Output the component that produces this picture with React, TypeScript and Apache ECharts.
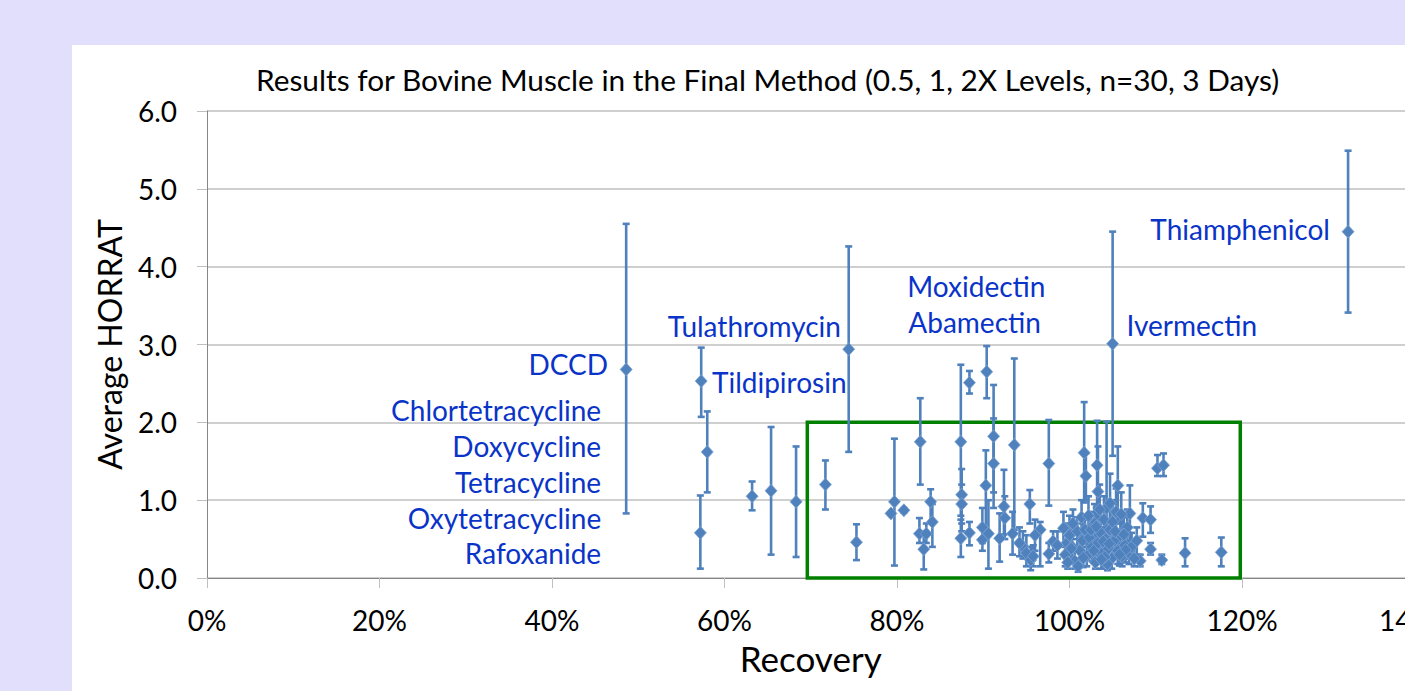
import React, { useEffect, useRef } from "react";
import * as echarts from "echarts";

const TITLE = "Results for Bovine Muscle in the Final Method (0.5, 1, 2X Levels, n=30, 3 Days)";
const X_NAME = "Recovery";
const Y_NAME = "Average HORRAT";

// recovery (%) of each analyte
const RECOVERY = [
  48.6, 57.3, 58.0, 57.2, 63.2, 65.4, 68.3, 71.7, 74.4, 75.3,
  79.7, 79.3, 80.8, 82.7, 82.6, 83.1, 83.4, 83.9, 84.1, 87.4,
  87.5, 87.5, 87.4, 88.4, 88.4, 90.4, 91.2, 91.2, 90.3, 89.9,
  89.9, 90.6, 91.9, 92.4, 92.5, 93.6, 93.4, 95.4, 94.6, 95.0,
  95.5, 96.6, 97.6, 98.1, 97.6, 99.3, 99.7, 105.0, 101.7, 101.9,
  103.2, 103.3, 104.3, 105.6, 104.7, 110.2, 110.9, 107.0, 108.5, 109.4,
  109.4, 110.7, 113.4, 117.6, 108.2, 106.2, 132.3,
  99.5, 100.0, 100.3, 100.6, 100.9, 101.2, 101.5, 101.8, 102.0, 102.3,
  102.6, 102.9, 103.0, 103.3, 103.6, 103.8, 104.0, 104.2, 104.5, 104.7,
  104.9, 105.2, 105.4, 105.6, 105.9, 106.1, 106.4, 106.7, 106.9, 107.2,
  107.5, 107.8, 101.0, 102.5, 103.5, 104.4, 105.0, 106.0, 100.4, 99.8,
  96.0, 98.6, 95.8, 94.2, 101.4, 102.8, 104.1, 105.3, 106.5, 103.9,
  100.2, 101.6, 103.1, 104.6, 105.8, 102.2, 103.7, 106.3
];
// average HORRAT of each analyte
const HORRAT = [
  2.68, 2.53, 1.62, 0.58, 1.05, 1.12, 0.98, 1.20, 2.94, 0.46,
  0.98, 0.83, 0.87, 1.75, 0.57, 0.37, 0.57, 0.98, 0.72, 1.75,
  1.07, 0.95, 0.51, 2.51, 0.58, 2.65, 1.82, 1.47, 1.19, 0.65,
  0.49, 0.57, 0.51, 0.92, 0.77, 1.71, 0.57, 0.95, 0.40, 0.32,
  0.23, 0.62, 1.47, 0.47, 0.31, 0.64, 0.45, 3.01, 1.61, 1.31,
  1.45, 1.11, 0.90, 1.19, 0.96, 1.41, 1.45, 0.83, 0.77, 0.75,
  0.37, 0.23, 0.32, 0.33, 0.22, 0.53, 4.45,
  0.30, 0.55, 0.40, 0.22, 0.60, 0.35, 0.48, 0.62, 0.28, 0.52,
  0.40, 0.70, 0.20, 0.45, 0.58, 0.32, 0.75, 0.50, 0.38, 0.62,
  0.25, 0.48, 0.85, 0.35, 0.55, 0.28, 0.42, 0.65, 0.32, 0.40,
  0.25, 0.48, 0.15, 0.62, 0.88, 0.18, 0.72, 0.82, 0.70, 0.20,
  0.55, 0.42, 0.28, 0.45, 0.78, 0.35, 0.27, 0.60, 0.36, 0.47,
  0.38, 0.26, 0.66, 0.44, 0.30, 0.80, 0.24, 0.56
];
// lower end of error bar
const LOW = [
  0.83, 2.07, 1.10, 0.12, 0.87, 0.30, 0.27, 0.88, 1.62, 0.23,
  0.16, 0.83, 0.84, 1.20, 0.45, 0.11, 0.45, 0.70, 0.40, 0.80,
  0.70, 0.60, 0.27, 2.37, 0.42, 2.31, 1.10, 0.90, 0.62, 0.45,
  0.35, 0.12, 0.21, 0.56, 0.50, 0.62, 0.30, 0.70, 0.25, 0.15,
  0.10, 0.15, 0.93, 0.35, 0.20, 0.40, 0.25, 1.57, 0.97, 1.00,
  0.90, 0.70, 0.40, 0.70, 0.50, 1.31, 1.31, 0.40, 0.53, 0.58,
  0.30, 0.18, 0.15, 0.15, 0.15, 0.30, 3.41,
  0.15, 0.35, 0.20, 0.12, 0.40, 0.20, 0.30, 0.45, 0.15, 0.35,
  0.22, 0.45, 0.12, 0.25, 0.35, 0.18, 0.50, 0.28, 0.20, 0.40,
  0.12, 0.28, 0.55, 0.18, 0.35, 0.15, 0.25, 0.45, 0.18, 0.25,
  0.15, 0.30, 0.08, 0.40, 0.60, 0.10, 0.45, 0.55, 0.50, 0.12,
  0.35, 0.25, 0.15, 0.28, 0.55, 0.20, 0.15, 0.35, 0.20, 0.30,
  0.22, 0.14, 0.45, 0.26, 0.16, 0.55, 0.12, 0.36
];
// upper end of error bar
const HIGH = [
  4.55, 2.96, 2.14, 1.06, 1.24, 1.94, 1.69, 1.51, 4.26, 0.69,
  1.79, 0.83, 0.90, 2.31, 0.77, 0.60, 0.70, 1.14, 0.95, 2.74,
  1.40, 1.20, 0.75, 2.66, 0.72, 2.98, 2.48, 2.05, 1.64, 0.90,
  0.65, 1.00, 0.83, 1.39, 1.05, 2.82, 0.85, 1.13, 0.60, 0.55,
  0.40, 0.72, 2.03, 0.60, 0.45, 0.85, 0.70, 4.45, 2.26, 1.60,
  2.02, 1.69, 2.01, 1.69, 1.34, 1.58, 1.60, 1.19, 0.96, 0.92,
  0.45, 0.30, 0.51, 0.52, 0.30, 0.80, 5.49,
  0.45, 0.80, 0.62, 0.35, 0.78, 0.52, 0.70, 0.80, 0.45, 0.75,
  0.60, 0.95, 0.30, 0.68, 0.85, 0.50, 1.05, 0.72, 0.58, 0.90,
  0.40, 0.70, 1.15, 0.52, 0.78, 0.42, 0.60, 0.88, 0.48, 0.58,
  0.38, 0.65, 0.25, 0.85, 1.20, 0.28, 1.00, 1.10, 0.88, 0.32,
  0.75, 0.60, 0.42, 0.65, 1.00, 0.52, 0.40, 0.85, 0.55, 0.65,
  0.55, 0.40, 0.90, 0.62, 0.45, 1.05, 0.38, 0.78
];

// annotation labels: name, recovery, HORRAT, alignment
const LABEL_NAMES = [
  "Thiamphenicol", "Ivermectin", "Moxidectin", "Abamectin", "Tulathromycin", "Tildipirosin",
  "DCCD", "Chlortetracycline", "Doxycycline", "Tetracycline", "Oxytetracycline", "Rafoxanide"
];
const LABEL_X = [130.2, 106.6, 89.2, 89.0, 73.5, 58.55, 46.5, 45.7, 45.7, 45.7, 45.7, 45.7];
const LABEL_Y = [4.48, 3.25, 3.75, 3.29, 3.24, 2.52, 2.75, 2.16, 1.70, 1.23, 0.77, 0.32];
const LABEL_ALIGN = ["right", "left", "center", "center", "right", "left", "right", "right", "right", "right", "right", "right"];

// highlighted region
const BOX_X = [69.6, 119.8];
const BOX_Y = [0, 2];

const X_TICKS = { min: 0, max: 140, interval: 20 };
const Y_TICKS = { min: 0, max: 6, interval: 1 };

const BLUE = "#4F81BD";
const FONT = "Lato";

export default function App() {
  const ref = useRef<HTMLDivElement>(null);

  useEffect(() => {
    document.body.style.margin = "0";
    if (!ref.current) return;
    const chart = echarts.init(ref.current, undefined, { renderer: "svg" });

    const points = RECOVERY.map((x, i) => [x, HORRAT[i]]);
    const bars = RECOVERY.map((x, i) => [x, LOW[i], HIGH[i]]);
    const labels = LABEL_NAMES.map((n, i) => ({
      name: n,
      value: [LABEL_X[i], LABEL_Y[i]],
      label: {
        position: LABEL_ALIGN[i] === "right" ? "left" : LABEL_ALIGN[i] === "left" ? "right" : "inside",
        distance: 0,
      },
    }));

    chart.setOption({
      animation: false,
      backgroundColor: "transparent",
      title: {
        text: TITLE,
        left: 251,
        top: 59,
        textStyle: { fontFamily: FONT, fontSize: 29.8, fontWeight: "normal", color: "#000" },
      },
      grid: {
        left: 207,
        top: 111,
        width: 1207.5,
        height: 467,
        containLabel: false,
        outerBoundsMode: "none",
      },
      xAxis: {
        type: "value",
        min: X_TICKS.min,
        max: X_TICKS.max,
        interval: X_TICKS.interval,
        name: X_NAME,
        nameLocation: "middle",
        nameGap: 62,
        nameTextStyle: { fontFamily: FONT, fontSize: 35, color: "#000" },
        axisLine: { show: true, onZero: false, lineStyle: { color: "#868686", width: 1 } },
        axisTick: { show: true, length: 10, lineStyle: { color: "#BFBFBF" } },
        axisLabel: { fontFamily: FONT, fontSize: 28, color: "#000", margin: 28, formatter: "{value}%" },
        splitLine: { show: false },
      },
      yAxis: {
        type: "value",
        min: Y_TICKS.min,
        max: Y_TICKS.max,
        interval: Y_TICKS.interval,
        name: Y_NAME,
        nameLocation: "middle",
        nameGap: 82,
        nameTextStyle: { fontFamily: FONT, fontSize: 32, color: "#000" },
        axisLine: { show: true, lineStyle: { color: "#868686", width: 1 } },
        axisTick: { show: true, length: 10, lineStyle: { color: "#BFBFBF" } },
        axisLabel: {
          fontFamily: FONT,
          fontSize: 28,
          color: "#000",
          margin: 30,
          formatter: (v: number) => v.toFixed(1),
        },
        splitLine: { show: true, lineStyle: { color: "#BFBFBF", width: 1.5 } },
      },
      series: [
        {
          type: "custom",
          name: "box",
          data: [[BOX_X[0], BOX_Y[0], BOX_X[1], BOX_Y[1]]],
          renderItem: (params: any, api: any) => {
            const p0 = api.coord([api.value(0), api.value(1)]);
            const p1 = api.coord([api.value(2), api.value(3)]);
            return {
              type: "rect",
              shape: { x: p0[0], y: p1[1], width: p1[0] - p0[0], height: p0[1] - p1[1] },
              style: { fill: "none", stroke: "#008000", lineWidth: 3.5 },
              z2: 10,
            };
          },
          z: 5,
          silent: true,
        },
        {
          type: "custom",
          name: "errors",
          data: bars,
          encode: { x: 0, y: [1, 2] },
          renderItem: (params: any, api: any) => {
            const x = api.value(0);
            const lo = api.coord([x, api.value(1)]);
            const hi = api.coord([x, api.value(2)]);
            const w = 3.5;
            const st = { stroke: BLUE, lineWidth: 2.6 };
            if (Math.abs(hi[1] - lo[1]) < 1) return { type: "group", children: [] };
            return {
              type: "group",
              children: [
                { type: "line", shape: { x1: lo[0], y1: lo[1], x2: hi[0], y2: hi[1] }, style: st },
                { type: "line", shape: { x1: lo[0] - w, y1: lo[1], x2: lo[0] + w, y2: lo[1] }, style: st },
                { type: "line", shape: { x1: hi[0] - w, y1: hi[1], x2: hi[0] + w, y2: hi[1] }, style: st },
              ],
            };
          },
          z: 6,
          silent: true,
        },
        {
          type: "scatter",
          name: "points",
          data: points,
          symbol: "diamond",
          symbolSize: [12, 13],
          itemStyle: { color: BLUE, borderColor: "#7FA3D3", borderWidth: 0.8, opacity: 1 },
          z: 7,
          silent: true,
        },
        {
          type: "scatter",
          name: "labels",
          data: labels,
          symbolSize: 0,
          itemStyle: { color: "transparent", opacity: 1 },
          label: {
            show: true,
            formatter: (p: any) => p.name,
            fontFamily: FONT,
            fontSize: 28,
            color: "#0A34C8",
          },
          z: 8,
          silent: true,
        },
      ],
    });

    return () => chart.dispose();
  }, []);

  return (
    <div style={{ position: "relative", width: 1405, height: 691, overflow: "hidden", background: "#E2DFFD" }}>
      <div style={{ position: "absolute", left: 72, top: 45, width: 1400, height: 700, background: "#fff" }} />
      <div ref={ref} style={{ position: "absolute", left: 0, top: 0, width: 1405, height: 691 }} />
    </div>
  );
}
